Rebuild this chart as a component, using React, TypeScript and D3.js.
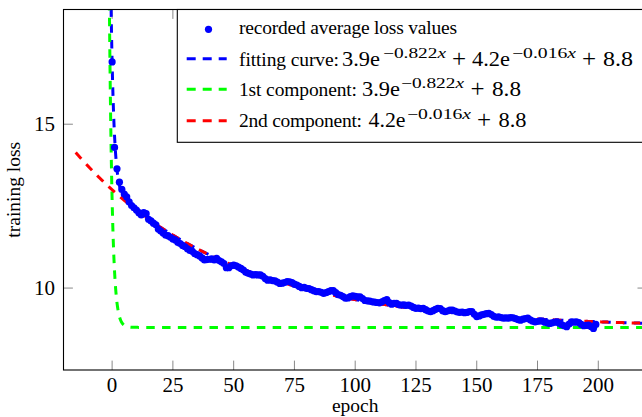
import React from 'react';
import * as d3 from 'd3';

// recorded average loss per epoch (epoch = index)
const lossValues: number[] = [
  16.90, 14.29, 13.64, 13.23, 13.01, 12.87, 12.78, 12.63, 12.52, 12.45,
  12.38, 12.30, 12.23, 12.30, 12.27, 12.10, 12.05, 11.98, 11.93, 11.80,
  11.74, 11.68, 11.62, 11.60, 11.55, 11.50, 11.47, 11.40, 11.36, 11.30,
  11.26, 11.20, 11.15, 11.12, 11.05, 11.02, 10.98, 10.92, 10.86, 10.87,
  10.88, 10.89, 10.86, 10.91, 10.84, 10.80, 10.75, 10.62, 10.62, 10.68,
  10.70, 10.68, 10.64, 10.60, 10.55, 10.48, 10.45, 10.43, 10.40, 10.41,
  10.40, 10.40, 10.36, 10.29, 10.24, 10.25, 10.23, 10.22, 10.18, 10.14,
  10.15, 10.17, 10.20, 10.19, 10.17, 10.12, 10.09, 10.05, 10.01, 10.02,
  9.99, 9.98, 9.95, 9.92, 9.89, 9.89, 9.87, 9.84, 9.86, 9.89,
  9.92, 9.92, 9.86, 9.80, 9.78, 9.74, 9.69, 9.70, 9.74, 9.76,
  9.75, 9.73, 9.73, 9.68, 9.62, 9.61, 9.60, 9.58, 9.57, 9.56,
  9.55, 9.58, 9.62, 9.65, 9.56, 9.51, 9.53, 9.53, 9.49, 9.48,
  9.49, 9.47, 9.48, 9.45, 9.41, 9.38, 9.39, 9.37, 9.38, 9.34,
  9.30, 9.28, 9.31, 9.35, 9.38, 9.37, 9.31, 9.28, 9.30, 9.33,
  9.33, 9.30, 9.27, 9.26, 9.27, 9.25, 9.26, 9.28, 9.28, 9.20,
  9.13, 9.15, 9.18, 9.20, 9.22, 9.23, 9.19, 9.14, 9.11, 9.12,
  9.10, 9.08, 9.09, 9.08, 9.10, 9.09, 9.07, 9.04, 9.02, 9.05,
  9.07, 9.08, 9.03, 8.99, 8.97, 8.98, 9.00, 8.99, 8.96, 8.94,
  8.92, 8.94, 8.96, 8.97, 8.93, 8.88, 8.85, 8.82, 8.90, 8.97,
  8.96, 8.97, 8.95, 8.89, 8.85, 8.86, 8.87, 8.83, 8.77, 8.89,
];

// fitted model: a1*e^(b1 x) + a2*e^(b2 x) + c
const amplitudes = [3.9, 4.2];
const rates = [-0.822, -0.016];
const offsetC = 8.8;

const xTicks = [0, 25, 50, 75, 100, 125, 150, 175, 200];
const yTicks = [10, 15];
const xDomain = [-20, 220];
const yDomain = [7.5, 18.5];
const curveDomain = [-15, 220];
const xLabel = 'epoch';
const yLabel = 'training loss';
const legendLabels = [
  'recorded average loss values',
  'fitting curve:',
  '1st component:',
  '2nd component:',
];
const seriesColors = ['#0000ff', '#0000ff', '#00ff00', '#ff0000'];

const fmtRate = (r: number) => '\u2212' + Math.abs(r).toFixed(3);

const FONT = '"Liberation Serif", "Times New Roman", Times, serif';

export default function App() {
  const W = 642, H = 417;
  const left = 63.5, right = 646.9, top = 9.5, bottom = 370;
  const x = d3.scaleLinear().domain(xDomain).range([left, right]);
  const y = d3.scaleLinear().domain(yDomain).range([bottom, top]);

  const samples = d3.range(curveDomain[0], curveDomain[1] + 1e-6, 0.05);
  const f1 = (t: number) => amplitudes[0] * Math.exp(rates[0] * t);
  const f2 = (t: number) => amplitudes[1] * Math.exp(rates[1] * t);
  const curveFns = [
    (t: number) => f1(t) + f2(t) + offsetC,
    (t: number) => f1(t) + offsetC,
    (t: number) => f2(t) + offsetC,
  ];
  const mkPath = (fn: (t: number) => number) =>
    d3.line<number>()
      .defined((t) => fn(t) < 20)
      .x((t) => x(t))
      .y((t) => y(fn(t)))(samples) || '';

  const dash = '8.5 7.3';
  const tickLen = 9.4;

  const mainFs = 21;
  const supFs = 14.5;
  const textFs = 19.5;
  const ts = { fontFamily: FONT };

  const Sup = ({ xPos, base, rate, len }: { xPos: number; base: number; rate: number; len: number }) => (
    <text x={xPos} y={base - 8} fontSize={supFs} style={ts} textLength={len} lengthAdjust="spacingAndGlyphs">
      {fmtRate(rate)}
      <tspan fontStyle="italic">x</tspan>
    </text>
  );
  const M = ({ xPos, base, s, len }: { xPos: number; base: number; s: string; len?: number }) => (
    <text x={xPos} y={base} fontSize={mainFs} style={ts} textLength={len} lengthAdjust={len ? 'spacingAndGlyphs' : undefined}>
      {s}
    </text>
  );
  const Plus = ({ xPos, base }: { xPos: number; base: number }) => (
    <text x={xPos} y={base + 1} fontSize={25} style={ts}>+</text>
  );
  const L = ({ base, s, len }: { base: number; s: string; len: number }) => (
    <text x={239} y={base} fontSize={textFs} style={ts} textLength={len} lengthAdjust="spacing">{s}</text>
  );

  const legendRows = [
    { cy: 29.3, base: 33.5 },
    { cy: 58.7, base: 65.5 },
    { cy: 89.3, base: 96 },
    { cy: 120.7, base: 127.3 },
  ];

  return (
    <svg width={W} height={H} style={{ position: 'absolute', left: 0, top: 0, fontFamily: FONT }}>
      <defs>
        <clipPath id="plotClip">
          <rect x={left} y={top} width={right - left} height={bottom - top} />
        </clipPath>
      </defs>
      <rect x={0} y={0} width={W} height={H} fill="#fff" />

      {/* ticks */}
      <g stroke="#888" strokeWidth={1}>
        {xTicks.map((t) => (
          <g key={'xt' + t}>
            <line x1={x(t)} x2={x(t)} y1={bottom} y2={bottom - tickLen} />
            <line x1={x(t)} x2={x(t)} y1={top} y2={top + tickLen} />
          </g>
        ))}
        {yTicks.map((t) => (
          <g key={'yt' + t}>
            <line x1={left} x2={left + tickLen} y1={y(t)} y2={y(t)} />
            <line x1={right} x2={right - tickLen} y1={y(t)} y2={y(t)} />
          </g>
        ))}
      </g>

      {/* curves */}
      <g clipPath="url(#plotClip)" fill="none" strokeWidth={3} strokeDasharray={dash}>
        {curveFns.map((fn, i) => (
          <path key={'c' + i} d={mkPath(fn)} stroke={seriesColors[i + 1]} />
        ))}
      </g>

      {/* data points */}
      <g clipPath="url(#plotClip)" fill={seriesColors[0]}>
        {lossValues.map((v, i) => (
          <circle key={'p' + i} cx={x(i)} cy={y(v)} r={3.6} />
        ))}
      </g>

      {/* axis box */}
      <rect x={left} y={top} width={right - left} height={bottom - top} fill="none" stroke="#000" strokeWidth={1.1} />

      {/* tick labels */}
      <g fill="#000">
        {xTicks.map((t) => (
          <text key={'xl' + t} x={x(t)} y={391.5} fontSize={21} style={ts} textAnchor="middle">{t}</text>
        ))}
        {yTicks.map((t) => (
          <text key={'yl' + t} x={55} y={y(t) + 6.8} fontSize={21} style={ts} textAnchor="end">{t}</text>
        ))}
      </g>

      {/* axis labels */}
      <text x={(left + right) / 2} y={411.5} fontSize={textFs} style={ts} textAnchor="middle">{xLabel}</text>
      <text transform={`translate(20,${(top + bottom) / 2}) rotate(-90)`} fontSize={textFs} style={ts} textAnchor="middle">{yLabel}</text>

      {/* legend */}
      <g>
        <rect x={177.3} y={top} width={right - 177.3} height={142.3 - top} fill="#fff" stroke="#000" strokeWidth={1.1} />
        <circle cx={208.5} cy={legendRows[0].cy} r={3.6} fill={seriesColors[0]} />
        {[1, 2, 3].map((i) => (
          <line key={'ll' + i} x1={186.7} x2={226.7} y1={legendRows[i].cy} y2={legendRows[i].cy}
            stroke={seriesColors[i]} strokeWidth={3} strokeDasharray="9 7" />
        ))}
        <g fill="#000">
          <L base={legendRows[0].base} s={legendLabels[0]} len={218} />

          <L base={legendRows[1].base} s={legendLabels[1]} len={100} />
          <M xPos={342} base={legendRows[1].base} s={`${amplitudes[0]}e`} len={38} />
          <Sup xPos={383} base={legendRows[1].base} rate={rates[0]} len={63} />
          <Plus xPos={452} base={legendRows[1].base} />
          <M xPos={472} base={legendRows[1].base} s={`${amplitudes[1]}e`} len={38} />
          <Sup xPos={512} base={legendRows[1].base} rate={rates[1]} len={64} />
          <Plus xPos={582} base={legendRows[1].base} />
          <M xPos={603} base={legendRows[1].base} s={`${offsetC}`} len={30} />

          <L base={legendRows[2].base} s={legendLabels[2]} len={118} />
          <M xPos={362} base={legendRows[2].base} s={`${amplitudes[0]}e`} len={38} />
          <Sup xPos={401} base={legendRows[2].base} rate={rates[0]} len={63} />
          <Plus xPos={470.5} base={legendRows[2].base} />
          <M xPos={492} base={legendRows[2].base} s={`${offsetC}`} len={29} />

          <L base={legendRows[3].base} s={legendLabels[3]} len={123} />
          <M xPos={368.5} base={legendRows[3].base} s={`${amplitudes[1]}e`} len={37} />
          <Sup xPos={407} base={legendRows[3].base} rate={rates[1]} len={64} />
          <Plus xPos={477} base={legendRows[3].base} />
          <M xPos={498.5} base={legendRows[3].base} s={`${offsetC}`} len={28} />
        </g>
      </g>
    </svg>
  );
}
